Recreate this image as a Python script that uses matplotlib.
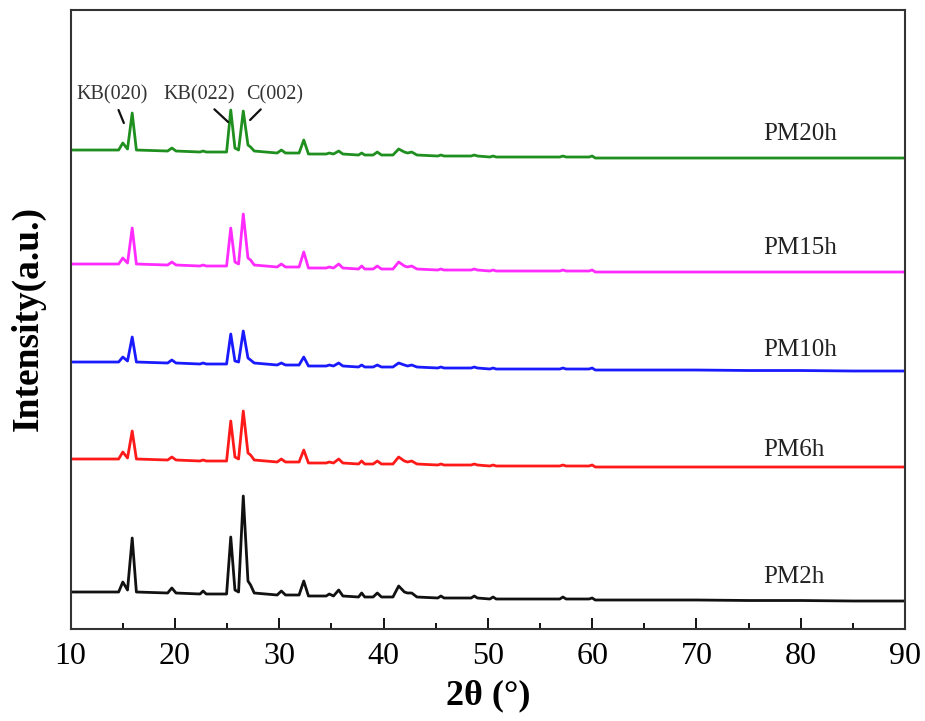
import matplotlib
matplotlib.use("Agg")
import matplotlib.pyplot as plt
from matplotlib.ticker import MultipleLocator

# 2theta key points
two_theta = [10, 14.6, 15.0, 15.45, 15.9, 16.3, 19.3, 19.7, 20.1, 22.4, 22.7, 23.0,
             24.95, 25.35, 25.75, 26.1, 26.55, 27.0, 27.25, 27.6, 29.8, 30.2, 30.6,
             31.9, 32.35, 32.8, 34.5, 34.8, 35.2, 35.7, 36.1, 37.6, 37.9, 38.2,
             39.0, 39.4, 39.8, 40.9, 41.45, 42.0, 42.3, 42.7, 43.2, 45.2, 45.5, 45.8,
             48.4, 48.7, 49.0, 50.2, 50.5, 50.8, 56.9, 57.2, 57.5, 59.7, 60.0, 60.3,
             65, 70, 75, 80, 85, 90]

# intensities relative to each pattern's left baseline (a.u.)
pm2h = [0, 0, 10, 2, 54, 0, -1, 4, -1, -2, 1, -2,
        -2, 55, 2, 0, 96, 11, 7, -1, -3, 1, -3,
        -3, 11, -4, -4, -2, -4, 2, -4, -5, -1, -5,
        -5, -1, -5, -5, 6, 0, -1, -1, -5, -6, -4, -6,
        -6, -4, -6, -7, -5, -7, -7, -5, -7, -7, -6, -8,
        -8, -8, -8.5, -8.5, -9, -9]
pm6h = [0, 0, 7, 1, 28, 0, -1, 2, -1, -2, -1, -2,
        -2, 38, 2, 0, 48, 6, 4, -1, -3, 0, -3,
        -3, 9, -4, -4, -3, -4, 0, -4, -5, -2, -5,
        -5, -2, -5, -5, 2, -2, -3, -2, -5, -6, -5, -6,
        -6, -5, -6, -7, -6, -7, -7, -6, -7, -7, -6, -8,
        -8, -8, -8, -8, -8, -8]
pm10h = [0, 0, 5, 1, 25, 0, -1, 2, -1, -2, -1, -2,
         -2, 28, 1, 0, 31, 4, 2, -1, -3, -1, -3,
         -3, 5, -4, -4, -3, -4, -1, -4, -5, -3, -5,
         -5, -3, -5, -5, -1, -3, -4, -3, -5, -6, -5, -6,
         -6, -5, -6, -7, -6, -7, -7, -6, -7, -7, -6, -8,
         -8, -8, -8.5, -8.5, -9, -9]
pm15h = [0, 0, 6, 1, 36, 0, -1, 2, -1, -2, -1, -2,
         -2, 36, 2, 0, 50, 6, 4, -1, -3, 0, -3,
         -3, 12, -4, -4, -3, -4, 0, -4, -5, -2, -5,
         -5, -2, -5, -5, 2, -2, -3, -2, -5, -6, -5, -6,
         -6, -5, -6, -7, -6, -7, -7, -6, -7, -7, -6, -8,
         -8, -8, -8, -8, -8, -8]
pm20h = [0, 0, 7, 1, 37, 0, -1, 2, -1, -2, -1, -2,
         -2, 40, 2, 0, 39, 5, 3, -1, -3, 0, -3,
         -3, 10, -4, -4, -3, -4, -1, -4, -5, -3, -5,
         -5, -2, -5, -5, 1, -2, -3, -2, -5, -6, -5, -6,
         -6, -5, -6, -7, -6, -7, -7, -6, -7, -7, -6, -8,
         -8, -8, -8, -8, -8, -8]

samples = ['PM2h', 'PM6h', 'PM10h', 'PM15h', 'PM20h']
patterns = [pm2h, pm6h, pm10h, pm15h, pm20h]
offsets = [37, 170, 267, 365, 479]
colors = ['#111111', '#ff1a1a', '#1a1aff', '#ff2bff', '#1f8f1f']
label_y = [52, 179, 279, 381, 495]

peak_names = ['KB(020)', 'KB(022)', 'C(002)']
peak_xy = [(15.1, 506), (25.1, 507), (27.2, 509)]
peak_text = [(14.0, 534), (22.3, 534), (29.6, 534)]

plt.rcParams['font.family'] = ['Liberation Serif', 'DejaVu Serif']

fig = plt.figure(figsize=(9.25, 7.21), dpi=100)
ax = fig.add_axes([0.0764, 0.1276, 0.9020, 0.8585])

for name, pat, off, c, ly in zip(samples, patterns, offsets, colors, label_y):
    ax.plot(two_theta, [v + off for v in pat], color=c, lw=2.0)
    ax.text(76.4, ly, name, fontsize=18, va='center', ha='left', color='#222222')

for name, xy, xt in zip(peak_names, peak_xy, peak_text):
    ax.annotate(name, xy=xy, xytext=xt, fontsize=14.5, ha='center', va='center',
                color='#333333',
                arrowprops=dict(arrowstyle='-', color='#111111', lw=1.6,
                                shrinkA=2, shrinkB=0))

ax.set_xlim(10, 90)
ax.set_ylim(0, 619)
ax.xaxis.set_major_locator(MultipleLocator(10))
ax.xaxis.set_minor_locator(MultipleLocator(5))
ax.tick_params(axis='x', which='major', direction='in', length=8, width=1.3,
               labelsize=23, pad=9)
ax.tick_params(axis='x', which='minor', direction='in', length=4.5, width=1.3)
ax.set_yticks([])
for s in ax.spines.values():
    s.set_linewidth(1.5)
    s.set_color('#333333')

ax.set_xlabel('2θ (°)', fontsize=26, fontweight='bold')
ax.xaxis.set_label_coords(0.5003, -0.082)
ax.xaxis.label.set_va('top')
ax.set_ylabel('Intensity(a.u.)', fontsize=27, fontweight='bold')
ax.yaxis.set_label_coords(-0.051, 0.502)
ax.yaxis.label.set_va('center')

fig.savefig('out.png', dpi=100)
